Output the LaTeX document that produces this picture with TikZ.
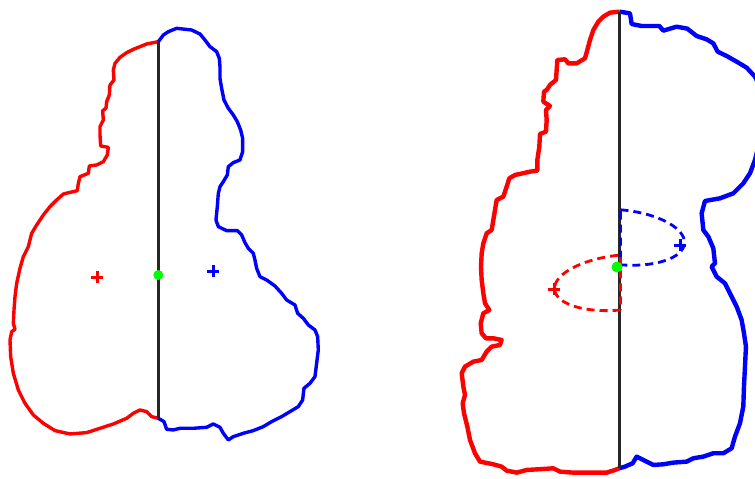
\documentclass[tikz,border=0pt]{standalone}
\begin{document}
\begin{tikzpicture}[
        x=1pt, y=-1pt,
        redside/.style={draw=red, line width=3.4pt, line join=round},
        blueside/.style={draw=blue, line width=3.4pt, line join=round},
        cutline/.style={draw=black!85, line width=2.4pt},
        halfellipse/.style={dash pattern=on 8pt off 5pt, line width=2.8pt},
        plusmark/.pic={\draw[line width=3pt] (-6,0) -- (6,0) (0,-6) -- (0,6);}
    ]

    \useasboundingbox (0,0) rectangle (755,479);
    \clip (0,0) rectangle (755,479);

    % left outline
    \begin{scope}[x=0.3333pt, y=-0.3333pt, yshift=-20pt]
    \draw[redside] (475,65) -- (440,72) -- (420,80) -- (400,88) -- (380,98) -- (360,112) -- (345,130) -- (340,150) -- (342,180) -- (330,195) -- (328,225) -- (320,245) -- (318,265) -- (308,272) -- (310,300) -- (300,320) -- (300,345) -- (302,378) -- (325,382) -- (322,405) -- (310,425) -- (290,435) -- (268,438) -- (265,460) -- (240,470) -- (235,490) -- (232,512) -- (190,522) -- (170,540) -- (150,560) -- (130,585) -- (110,615) -- (95,640) -- (85,680) -- (70,710) -- (60,745) -- (50,790) -- (45,830) -- (42,870) -- (40,910) -- (45,928) -- (35,935) -- (30,960) -- (32,1010) -- (40,1060) -- (55,1110) -- (75,1150) -- (100,1185) -- (130,1210) -- (165,1232) -- (210,1242) -- (260,1238) -- (300,1225) -- (340,1212) -- (380,1195) -- (400,1180) -- (420,1170) -- (440,1175) -- (455,1190) -- (475,1195);
    \draw[blueside] (475,65) -- (490,45) -- (505,35) -- (530,25) -- (575,30) -- (600,42) -- (615,60) -- (630,80) -- (650,95) -- (658,115) -- (660,140) -- (660,175) -- (665,205) -- (672,240) -- (685,265) -- (700,285) -- (712,305) -- (722,330) -- (728,355) -- (728,395) -- (720,420) -- (700,428) -- (685,440) -- (682,465) -- (670,485) -- (660,500) -- (655,520) -- (652,560) -- (648,600) -- (655,620) -- (680,632) -- (712,632) -- (725,645) -- (735,668) -- (745,685) -- (760,700) -- (765,720) -- (770,745) -- (780,770) -- (800,780) -- (825,798) -- (845,820) -- (860,840) -- (885,855) -- (893,880) -- (910,895) -- (925,915) -- (945,930) -- (953,950) -- (955,990) -- (950,1030) -- (945,1070) -- (930,1090) -- (912,1105) -- (908,1140) -- (895,1160) -- (870,1175) -- (845,1190) -- (815,1205) -- (790,1220) -- (760,1232) -- (730,1240) -- (700,1250) -- (685,1260) -- (670,1240) -- (660,1222) -- (640,1212) -- (620,1222) -- (580,1225) -- (540,1225) -- (520,1230) -- (500,1228) -- (492,1205) -- (475,1195);
    \end{scope}

    \draw[cutline] (158.3,41.7) -- (158.3,418);
    \pic[red] at (97,277) {plusmark};
    \pic[blue] at (213,271) {plusmark};
    \fill[green] (158.3,275) circle (5pt);

    % right outline
    \begin{scope}[x=0.3333pt, y=-0.3333pt, xshift=450pt, redside/.append style={line width=4.4pt}, blueside/.append style={line width=4.4pt}]
    \draw[redside] (508,35) -- (480,38) -- (460,50) -- (445,65) -- (430,90) -- (420,120) -- (412,150) -- (405,175) -- (380,190) -- (355,190) -- (345,178) -- (322,180) -- (320,210) -- (318,240) -- (300,255) -- (290,270) -- (282,275) -- (280,305) -- (300,318) -- (288,330) -- (290,360) -- (288,395) -- (270,402) -- (268,440) -- (262,480) -- (262,512) -- (240,515) -- (218,520) -- (195,525) -- (178,535) -- (170,560) -- (160,590) -- (140,600) -- (135,630) -- (130,660) -- (125,690) -- (110,700) -- (100,730) -- (95,760) -- (93,800) -- (95,840) -- (100,880) -- (105,910) -- (118,930) -- (100,940) -- (92,970) -- (95,1000) -- (108,1015) -- (130,1015) -- (155,1020) -- (150,1035) -- (125,1040) -- (110,1055) -- (95,1080) -- (70,1085) -- (45,1100) -- (35,1120) -- (40,1160) -- (45,1185) -- (38,1210) -- (42,1240) -- (52,1280) -- (60,1320) -- (75,1360) -- (90,1385) -- (130,1393) -- (155,1400) -- (170,1412) -- (200,1418) -- (230,1410) -- (265,1408) -- (310,1405) -- (330,1415) -- (370,1418) -- (420,1418) -- (470,1418) -- (495,1410) -- (508,1405);
    \draw[blueside] (508,35) -- (540,40) -- (545,72) -- (575,78) -- (628,78) -- (640,92) -- (680,80) -- (712,86) -- (740,108) -- (770,118) -- (790,130) -- (803,155) -- (830,168) -- (860,185) -- (890,203) -- (915,230) -- (930,260) -- (935,330) -- (930,420) -- (915,480) -- (900,520) -- (880,550) -- (850,580) -- (810,595) -- (765,603) -- (755,640) -- (760,690) -- (775,710) -- (790,745) -- (795,790) -- (785,800) -- (800,830) -- (825,850) -- (840,880) -- (860,920) -- (875,960) -- (882,1000) -- (888,1040) -- (885,1100) -- (882,1160) -- (880,1220) -- (870,1270) -- (855,1310) -- (845,1345) -- (820,1360) -- (790,1360) -- (760,1370) -- (730,1375) -- (710,1385) -- (670,1388) -- (640,1393) -- (610,1395) -- (590,1385) -- (560,1370) -- (548,1390) -- (525,1400) -- (508,1405);
    \end{scope}

    \draw[cutline] (619.3,11.7) -- (619.3,468);
    \draw[blue, halfellipse] plot[domain=-90:90, samples=40] ({620.5+64*cos(\x)}, {237.3+27.5*sin(\x)+0.08*64*cos(\x)}) -- cycle;
    \draw[red, halfellipse] plot[domain=90:270, samples=40] ({620.5+66*cos(\x)}, {282.5+27.5*sin(\x)-0.09*66*cos(\x)}) -- cycle;
    \pic[red] at (554,289) {plusmark};
    \pic[blue] at (680,245) {plusmark};
    \fill[green] (617,267) circle (5.5pt);

\end{tikzpicture}
\end{document}
